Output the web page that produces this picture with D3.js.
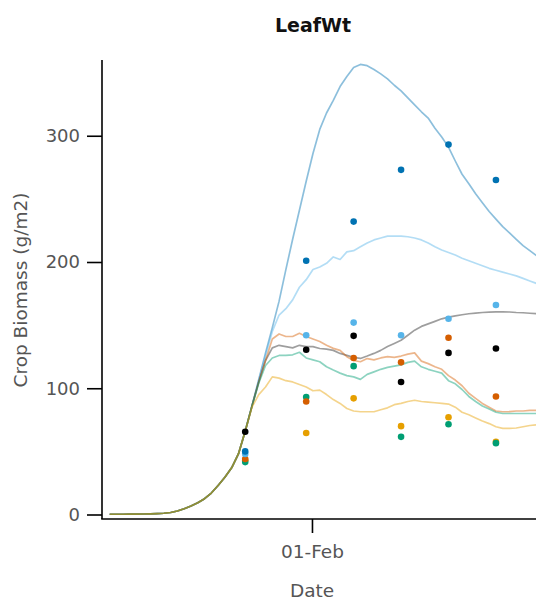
<!DOCTYPE html>
<html>
<head>
<meta charset="utf-8">
<script src="https://cdn.jsdelivr.net/npm/d3@7"></script>
<style>
  html, body { margin: 0; padding: 0; background: #fff; }
  svg { display: block; font-family: "DejaVu Sans", sans-serif; }
</style>
</head>
<body>
<svg id="chart" width="536" height="604"></svg>
<script>
// Simulated leaf weight, daily from 2 Jan; all treatments share the early growth
const simStart = "2020-01-02";
const earlyGrowth = [0.2, 0.2, 0.2, 0.3, 0.3, 0.4, 0.5, 0.7, 1.0, 1.6,
                     2.8, 4.6, 6.8, 9.3, 12.5, 17, 23, 29.5, 37, 48];

// Per-treatment simulated values, 22 Jan – 5 Mar
const simBlue = [66, 86, 107, 128, 148, 169, 194, 218, 241, 264, 286, 305, 318, 328, 339,
                 347, 354, 356.5, 355.5, 352.5, 349, 345, 340, 335.5, 330, 324.5, 319, 314, 306,
                 299, 291, 280, 269.5, 262, 254, 247, 240, 234, 228, 223, 218, 213, 209, 205];
const simSky = [66, 86, 106, 126, 145, 158, 163, 170, 180, 186, 194, 196, 199, 204, 202,
                208, 209, 212, 215, 217.5, 219, 220.5, 220.5, 220.5, 220, 219, 217.5, 215, 212,
                209.5, 207.5, 205.5, 203, 201, 199, 197, 195, 193.5, 192, 190.5, 189, 187, 185, 183];
const simBlack = [66, 86, 105, 122, 132, 134, 133, 132, 134, 133, 133, 131.5, 131, 130, 127.6,
                  126, 124.5, 123.6, 125.5, 127.6, 130, 133, 135.5, 138, 142, 146, 149, 151, 153,
                  155, 156.3, 157.3, 158.2, 159, 159.5, 160, 160.3, 160.5, 160.6, 160.4, 160, 159.8, 159.4, 159];
const simVermillion = [66, 86, 105, 122, 139, 143, 141, 141, 143.5, 141, 139, 137, 134, 131.6, 130,
                       125, 122, 121, 123.5, 122.5, 124, 125, 124.5, 125.5, 127, 128, 121.5, 119.5, 117,
                       115, 110, 106.5, 102, 96, 92, 88, 85, 82, 81.4, 81.5, 82, 82, 82.5, 82.5];
const simGreen = [66, 86, 104, 118, 124, 126, 126, 126.5, 128.5, 124, 122.5, 121, 117, 114.4, 112,
                  110, 109, 107, 111, 113, 115, 116.5, 117.5, 118.5, 120.5, 121.5, 117, 115, 113.5,
                  112, 106, 103.5, 99, 93.5, 89.5, 86, 83.5, 81, 80, 80, 80, 80, 80, 80];
const simOrange = [66, 85, 95, 101, 109, 108, 106, 105, 103, 101, 98, 98.5, 95, 91, 88,
                   84, 82, 81.4, 81.4, 81.4, 83, 84.5, 87, 88, 89.5, 90.5, 89.5, 89, 88.5,
                   88, 87.5, 85, 81, 79, 76.5, 74, 72, 69.5, 68.2, 68.2, 68.5, 69.5, 70.5, 71];

// Observed leaf weight
const obsDates = ["2020-01-22", "2020-01-31", "2020-02-07", "2020-02-14", "2020-02-21", "2020-02-28"];
const obsBlue = [50, 201, 232, 273, 293, 265];
const obsSky = [48, 142, 152, 142, 155, 166];
const obsBlack = [65.5, 130.5, 141.5, 105, 128, 131.5];
const obsVermillion = [44, 89.5, 124, 120.5, 140, 93.5];
const obsGreen = [41.5, 93, 117.5, 61.5, 71.5, 56.5];
const obsOrange = [43, 64.5, 92, 70, 77, 57.5];

const yTicks = [0, 100, 200, 300];
const xTickDates = ["2020-02-01"];

const parse = d3.timeParse("%Y-%m-%d");
const day0 = parse(simStart);

const series = [
  { color: "#0072B2", sim: simBlue, obs: obsBlue },
  { color: "#56B4E9", sim: simSky, obs: obsSky },
  { color: "#000000", sim: simBlack, obs: obsBlack },
  { color: "#D55E00", sim: simVermillion, obs: obsVermillion },
  { color: "#009E73", sim: simGreen, obs: obsGreen },
  { color: "#E69F00", sim: simOrange, obs: obsOrange }
];

function simPoints(vals) {
  return earlyGrowth.concat(vals).map((v, i) => ({ date: d3.timeDay.offset(day0, i), value: v }));
}

const svg = d3.select("#chart");

const x = d3.scaleTime()
  .domain([parse("2020-01-01"), parse("2020-03-05")])
  .range([102.9, 536.6]);
const y = d3.scaleLinear().domain([0, 360]).range([514.5, 60]);

const axisLeftX = 102, axisBottomY = 519;
const grey = "#555";

// Simulated lines
const line = d3.line().x(d => x(d.date)).y(d => y(d.value));
svg.append("g").selectAll("path")
  .data(series)
  .join("path")
  .attr("fill", "none")
  .attr("stroke", d => d.color)
  .attr("stroke-opacity", d => d.color === "#000000" ? 0.38 : 0.45)
  .attr("stroke-width", 1.7)
  .attr("stroke-linejoin", "round")
  .attr("d", d => line(simPoints(d.sim)));

// Observed points, later treatments drawn underneath
const pointOrder = [5, 4, 3, 1, 0, 2];
const obsPts = [];
pointOrder.forEach(i => {
  series[i].obs.forEach((v, j) => obsPts.push({ date: parse(obsDates[j]), value: v, color: series[i].color }));
});
svg.append("g").selectAll("circle")
  .data(obsPts)
  .join("circle")
  .attr("cx", d => x(d.date))
  .attr("cy", d => y(d.value))
  .attr("r", 3.3)
  .attr("fill", d => d.color);

// Axes
const yAxis = d3.axisLeft(y).tickValues(yTicks).tickSize(15).tickPadding(7).tickSizeOuter(0);
const gy = svg.append("g").attr("transform", `translate(${axisLeftX},0)`).call(yAxis);
gy.select(".domain").remove();
gy.selectAll(".tick line").attr("stroke", "#000").attr("stroke-width", 1.6);
gy.selectAll(".tick text").attr("fill", grey).attr("font-size", 18).attr("font-family", "DejaVu Sans");

const xAxis = d3.axisBottom(x).tickValues(xTickDates.map(parse))
  .tickFormat(d3.timeFormat("%d-%b")).tickSize(14).tickPadding(12).tickSizeOuter(0);
const gx = svg.append("g").attr("transform", `translate(-1,${axisBottomY})`).call(xAxis);
gx.select(".domain").remove();
gx.selectAll(".tick line").attr("stroke", "#000").attr("stroke-width", 1.6);
gx.selectAll(".tick text").attr("fill", grey).attr("font-size", 18.5).attr("font-family", "DejaVu Sans");

svg.append("line")
  .attr("x1", axisLeftX).attr("x2", axisLeftX)
  .attr("y1", y(360)).attr("y2", axisBottomY)
  .attr("stroke", "#000").attr("stroke-width", 1.6);
svg.append("line")
  .attr("x1", axisLeftX - 0.8).attr("x2", 536)
  .attr("y1", axisBottomY).attr("y2", axisBottomY)
  .attr("stroke", "#000").attr("stroke-width", 1.6);

// Titles
svg.append("text")
  .attr("x", 313).attr("y", 32)
  .attr("text-anchor", "middle")
  .attr("font-size", 19).attr("font-weight", "bold").attr("fill", "#111")
  .text("LeafWt");

svg.append("text")
  .attr("x", 312).attr("y", 597)
  .attr("text-anchor", "middle")
  .attr("font-size", 18.5).attr("fill", grey)
  .text("Date");

svg.append("text")
  .attr("transform", "translate(27,290) rotate(-90)")
  .attr("text-anchor", "middle")
  .attr("font-size", 18.5).attr("fill", grey)
  .text("Crop Biomass (g/m2)");
</script>
</body>
</html>
